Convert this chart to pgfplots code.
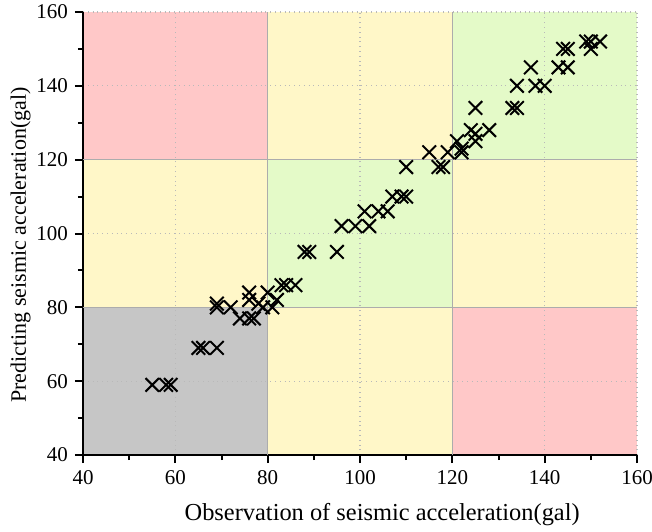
\documentclass[border=0pt]{standalone}
\usepackage{pgfplots}
\pgfplotsset{compat=1.18}
\usepackage{fontspec}
\setmainfont{Liberation Serif}
\definecolor{cgray}{RGB}{198,198,198}
\definecolor{cyel}{RGB}{255,247,200}
\definecolor{cpink}{RGB}{255,200,200}
\definecolor{cgreen}{RGB}{228,250,200}
\begin{document}
\begin{tikzpicture}
\begin{axis}[
  set layers,
  scale only axis,
  width=277pt, height=221.5pt,
  xmin=40, xmax=160, ymin=40, ymax=160,
  xtick={40,60,...,160}, ytick={40,60,...,160},
  minor x tick num=1, minor y tick num=1,
  axis x line*=bottom, axis y line*=left,
  axis line style={black, line width=1pt},
  tick style={black, line width=1pt},
  tick align=outside,
  major tick length=4pt, minor tick length=2.5pt,
  grid=major,
  major grid style={gray!55, dotted, line width=0.6pt},
  /pgf/number format/assume math mode=true,
  ticklabel style={font=\fontsize{10.5}{12}\selectfont},
  xlabel={Observation of seismic acceleration(gal)},
  ylabel={Predicting seismic acceleration(gal)},
  xlabel style={font=\fontsize{12.2}{14}\selectfont, at={(axis description cs:0.540,-0.1354)}, anchor=center},
  ylabel style={font=\fontsize{11}{13}\selectfont, at={(axis description cs:-0.1128,0.474)}, anchor=center},
  clip=true,
]
\begin{pgfonlayer}{axis background}
\fill[cgray] (axis cs:40,40) rectangle (axis cs:80,80);
\fill[cyel] (axis cs:40,80) rectangle (axis cs:80,120);
\fill[cpink] (axis cs:40,120) rectangle (axis cs:80,160);
\fill[cyel] (axis cs:80,40) rectangle (axis cs:120,80);
\fill[cgreen] (axis cs:80,80) rectangle (axis cs:120,120);
\fill[cyel] (axis cs:80,120) rectangle (axis cs:120,160);
\fill[cpink] (axis cs:120,40) rectangle (axis cs:160,80);
\fill[cyel] (axis cs:120,80) rectangle (axis cs:160,120);
\fill[cgreen] (axis cs:120,120) rectangle (axis cs:160,160);
\end{pgfonlayer}
\draw[gray!65, line width=0.7pt] (axis cs:80,40) -- (axis cs:80,160);
\draw[gray!65, line width=0.7pt] (axis cs:120,40) -- (axis cs:120,160);
\draw[gray!65, line width=0.7pt] (axis cs:40,80) -- (axis cs:160,80);
\draw[gray!65, line width=0.7pt] (axis cs:40,120) -- (axis cs:160,120);
\coordinate (ll) at (rel axis cs:0,0);
\coordinate (ur) at (rel axis cs:1,1);
\addplot[only marks, mark=x, mark size=4.8pt, mark options={line width=1pt, black}] coordinates {
(55,59) (58,59) (59,59)
(65,69) (66,69) (69,69)
(69,80) (69,81) (72,80)
(74,77) (76,77) (77,77)
(76,84) (76,82) (78,81) (80,84) (79,80) (81,80) (82,82)
(83,86) (84,86) (86,86)
(88,95) (89,95) (95,95)
(96,102) (99,102) (102,102)
(101,106) (104,106) (106,106)
(107,110) (109,110) (110,110)
(110,118) (117,118) (118,118)
(115,122) (119,122) (122,122)
(121,125) (122,123)
(124,128) (125,127) (128,128) (125,125)
(125,134)
(133,134) (134,134)
(134,140) (138,140) (140,140)
(137,145) (143,145) (145,145)
(144,150) (145,150)
(149,152) (150,152) (152,152) (150,150)
};
\end{axis}
\pgfresetboundingbox
\path[use as bounding box] ([shift={(-41.5pt,-38pt)}]ll) rectangle ([shift={(7.5pt,6pt)}]ur);
\end{tikzpicture}
\end{document}
